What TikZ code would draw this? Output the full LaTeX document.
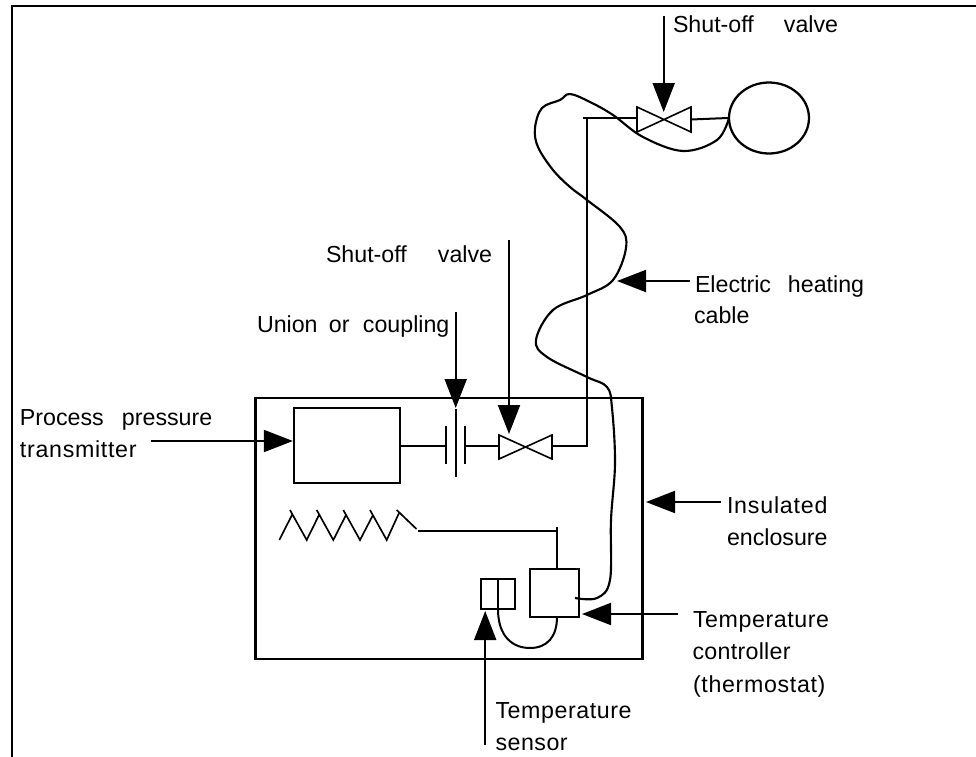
\documentclass[tikz,border=0pt]{standalone}
\usepackage{fontspec}
\setmainfont{Liberation Sans}
\usetikzlibrary{arrows.meta,shapes.geometric}
\def\px{0.75pt}
\tikzset{
  wire/.style={line width=1.5pt,line cap=butt},
  thin wire/.style={line width=1.25pt},
  boxnode/.style={draw,line width=1.7pt,inner sep=0pt,fill=white},
  callout/.style={line width=1.5pt,-{Triangle[length=21.75pt,width=16.5pt]}},
  lbl/.style={anchor=base west,inner sep=0pt,outer sep=0pt,font=\fontsize{17.4}{20}\selectfont},
  valvebody/.style={draw,line width=1.2pt,fill=white,line join=miter},
}
\newcommand{\gapword}[3]{\makebox[\dimexpr #1pt*3/4\relax][l]{#2}#3}
\newcommand{\spaced}[2]{{\addfontfeature{LetterSpace=#1}#2}}
\begin{document}
\begin{tikzpicture}[x=0.75pt,y=-0.75pt]
\useasboundingbox (0,0) rectangle (976,757);
% outer frame (open on right and bottom)
\coordinate (fa) at (12,757);
\coordinate (fb) at (12,6);
\coordinate (fc) at (976,6);
\draw[line width=1pt] (fa) -- (fb) -- (fc);
% enclosure
\node[boxnode,fill=none,minimum width=387*\px,minimum height=261*\px] (encl) at (449,528.5) {};
% boxes
\node[boxnode,minimum width=106*\px,minimum height=75*\px] (xmtr) at (347,445.5) {};
\node[boxnode,minimum width=49*\px,minimum height=48*\px] (ctrl) at (554.5,593) {};
\node[boxnode,minimum width=17*\px,minimum height=30*\px] (sa) at (489.5,594) {};
\node[boxnode,minimum width=17*\px,minimum height=30*\px] (sb) at (506.5,594) {};
% valves and pipe points
\coordinate (v1) at (525.5,447);
\coordinate (v2) at (664,119.5);
\coordinate (pa) at (445,446);
\coordinate (pb) at (465,446);
\coordinate (pc) at (498,446);
\coordinate (pd) at (552,446);
\coordinate (pe) at (586.5,446);
\coordinate (pf) at (586.5,118);
\coordinate (pg) at (583,118);
\coordinate (ph) at (637,118);
\coordinate (pi) at (691,119.5);
\node[draw,line width=1.7pt,ellipse,inner sep=0pt,minimum width=80*\px,minimum height=71*\px] (tank) at (769,118) {};
\draw[wire] (xmtr.east |- pa) -- (pa);
\draw[wire] (pb) -- (pc);
\draw[wire] (pd) -- (pe) -- (pf);
\draw[wire] (pg) -- (ph);
\draw[wire] (pi) -- (tank.west);
% union
\coordinate (ua) at (446,426); \coordinate (ub) at (446,464);
\coordinate (uc) at (455.7,409); \coordinate (ud) at (455.7,477);
\coordinate (ue) at (465,426); \coordinate (uf) at (465,464);
\draw[wire] (ua) -- (ub) (uc) -- (ud) (ue) -- (uf);
% valves
\draw[valvebody] (v1) ++(-26.5,-12) -- ++(53,24) -- ++(0,-24) -- ++(-53,24) -- cycle;
\draw[valvebody] (v2) ++(-27,-12.5) -- ++(54,25) -- ++(0,-25) -- ++(-54,25) -- cycle;
% heating cable
\draw[line width=1.6pt] plot[smooth,tension=.6] coordinates {
 (729,118) (717,140) (683,151) (643,137) (613,115) (590,102) (570,94) (560,100) (542,108) (535,128) (538,147) (553,170) (570,187) (587,200) (620,227) (626,248) (613,280) (587,295) (553,310) (536,340) (547,357) (587,377) (607,387) (612,408) (615,463) (611,520) (610,580) (597,598) (575,598)};
% heater coil
\coordinate (hw) at (418,531);
\coordinate (hj) at (557,531);
\coordinate (hu) at (557,527);
\draw[wire] (hw) -- (hj);
\draw[wire] (hu) -- (ctrl.north -| hu);
\draw[thin wire] (279.3,540) -- (292,515) (290,510) -- (306.7,540) -- (319,515) (316.7,510) -- (333.3,540) -- (346,515) (343.3,510) -- (360,540) -- (373,515) (370,510) -- (386.7,540) -- (399.5,512) (396.7,510) -- (416.5,529);
% sensor lead
\coordinate (lc) at (530,648);
\draw[wire] (498,609) .. controls (498,637) and (513,648) .. (lc) .. controls (547,648) and (557,637) .. (557,617);
% callouts
\coordinate (t1) at (151,441); \draw[callout] (t1) -- (xmtr.west |- t1);
\coordinate (t2) at (455.7,312); \coordinate (h2) at (455.7,408); \draw[callout] (t2) -- (h2);
\coordinate (t3) at (509,240); \coordinate (h3) at (509,434); \draw[callout] (t3) -- (h3);
\coordinate (t4) at (663.7,16); \coordinate (h4) at (663.7,112); \draw[callout] (t4) -- (h4);
\coordinate (t5) at (690,281); \coordinate (h5) at (617,281); \draw[callout] (t5) -- (h5);
\coordinate (t6) at (721,502); \coordinate (h6) at (646,502); \draw[callout] (t6) -- (h6);
\coordinate (t7) at (678,614); \coordinate (h7) at (582,614); \draw[callout] (t7) -- (h7);
\coordinate (t8) at (485.2,745); \coordinate (h8) at (485.2,611); \draw[callout] (t8) -- (h8);
% labels
\node[lbl] (l1) at (673,32) {\gapword{111}{Shut-off}{valve}};
\node[lbl] (l2) at (326,262) {\gapword{112}{Shut-off}{valve}};
\node[lbl] (l3) at (257,332) {\gapword{72}{Union}{\gapword{34}{or}{coupling}}};
\node[lbl] (l4a) at (20,425) {\gapword{102}{Process}{pressure}};
\node[lbl] (l4b) at (20,457) {\spaced{3}{transmitter}};
\node[lbl] (l5a) at (695,292) {\gapword{93}{Electric}{heating}};
\node[lbl] (l5b) at (694,323) {cable};
\node[lbl] (l6a) at (727,513) {\spaced{3.4}{Insulated}};
\node[lbl] (l6b) at (727,545) {enclosure};
\node[lbl] (l7a) at (693,627) {\spaced{2.5}{Temperature}};
\node[lbl] (l7b) at (692.5,659) {\spaced{1.3}{controller}};
\node[lbl] (l7c) at (693,692) {\spaced{2.9}{(thermostat)}};
\node[lbl] (l8a) at (495.5,718) {\spaced{2.5}{Temperature}};
\node[lbl] (l8b) at (495.5,750) {\spaced{2.2}{sensor}};
\end{tikzpicture}
\end{document}
